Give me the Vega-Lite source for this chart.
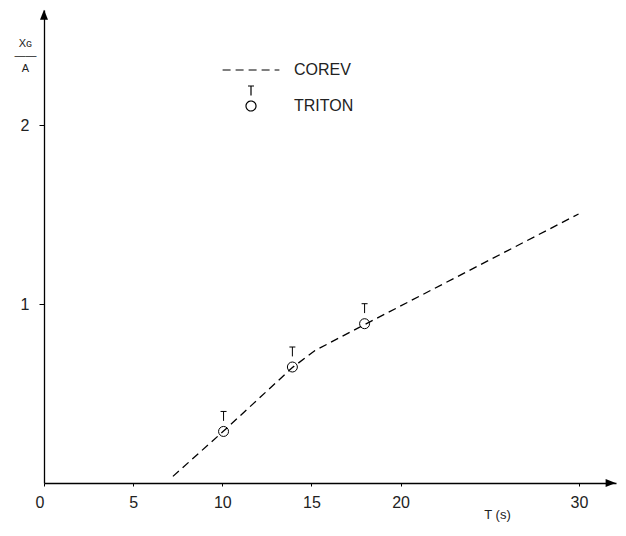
{
  "$schema": "https://vega.github.io/schema/vega-lite/v6.json",
  "width": 572,
  "height": 473,
  "autosize": {"type": "none"},
  "padding": {"left": 44, "top": 10, "right": 10, "bottom": 53},
  "background": "white",
  "config": {
    "view": {"stroke": null},
    "font": "Liberation Sans",
    "axis": {"grid": false, "domainColor": "black", "domainWidth": 1.3, "tickColor": "black", "tickWidth": 1, "labelColor": "#222", "titleColor": "#222", "labelFont": "Liberation Sans", "titleFont": "Liberation Sans", "titleFontWeight": "normal"}
  },
  "datasets": {
    "corev": [
      {"T": 7.23, "XG_A": 0.037, "series": "COREV"},
      {"T": 10.07, "XG_A": 0.29, "series": "COREV"},
      {"T": 13.93, "XG_A": 0.645, "series": "COREV"},
      {"T": 15.2, "XG_A": 0.74, "series": "COREV"},
      {"T": 17.98, "XG_A": 0.885, "series": "COREV"},
      {"T": 29.98, "XG_A": 1.503, "series": "COREV"}
    ],
    "triton": [
      {"T": 10.07, "XG_A": 0.288, "series": "TRITON"},
      {"T": 13.93, "XG_A": 0.648, "series": "TRITON"},
      {"T": 17.98, "XG_A": 0.89, "series": "TRITON"}
    ]
  },
  "layer": [
    {
      "data": {"name": "corev"},
      "mark": {"type": "line", "color": "black", "strokeWidth": 1.3},
      "encoding": {
        "x": {"field": "T", "type": "quantitative", "scale": {"domain": [0, 32.08], "nice": false, "zero": false},
          "axis": {"values": [0, 5, 10, 15, 20, 30], "title": "T (s)", "titleX": 453, "titleY": 31, "titleBaseline": "middle", "titleAlign": "center", "titleFontSize": 13, "labelFontSize": 16, "labelPadding": 8, "labelBaseline": "top", "tickSize": 3, "labelFlush": false, "labelOverlap": false,
            "labelExpr": "datum.value === 0 ? '0  ' : datum.label",
            "labelAlign": {"condition": {"test": "datum.value === 0", "value": "right"}, "value": "center"}}},
        "y": {"field": "XG_A", "type": "quantitative", "scale": {"domain": [0, 2.6425], "nice": false},
          "axis": {"values": [1, 2], "format": "d", "title": ["Xɢ", "——", "A"], "titleAngle": 0, "titleX": -19, "titleY": 36, "titleBaseline": "alphabetic", "titleAlign": "center", "titleFontSize": 11, "titleLineHeight": 12.5, "labelFontSize": 16, "labelPadding": 10, "tickSize": 5, "labelFlush": false, "labelOverlap": false}},
        "strokeDash": {"field": "series", "type": "nominal", "scale": {"domain": ["COREV", "TRITON"], "range": [[8, 5], [1, 0]]},
          "legend": {"title": null, "orient": "none", "legendX": 186, "legendY": 39, "padding": 0, "symbolSize": 1600, "rowPadding": 5, "labelOffset": 22, "labelFontSize": 16, "labelFont": "Liberation Sans", "labelColor": "#222", "symbolStrokeColor": "black", "symbolFillColor": "transparent", "symbolStrokeWidth": 1.2}}
      }
    },
    {
      "data": {"name": "triton"},
      "mark": {"type": "point", "filled": false, "color": "black", "strokeWidth": 1, "size": 1600, "opacity": 1},
      "encoding": {
        "x": {"field": "T", "type": "quantitative"},
        "y": {"field": "XG_A", "type": "quantitative"},
        "shape": {"field": "series", "type": "nominal", "scale": {"domain": ["COREV", "TRITON"], "range": ["M -1.42 0 L 1.42 0", "M 0.25 0 A 0.25 0.25 0 1 1 -0.25 0 A 0.25 0.25 0 1 1 0.25 0 Z M -0.15 -1 L 0.15 -1 M 0 -1 L 0 -0.53"]},
          "legend": {"title": null, "orient": "none", "legendX": 186, "legendY": 39, "padding": 0, "symbolSize": 1600, "rowPadding": 5, "labelOffset": 22, "labelFontSize": 16, "labelFont": "Liberation Sans", "labelColor": "#222", "symbolStrokeColor": "black", "symbolFillColor": "transparent", "symbolStrokeWidth": 1.2}}
      }
    },
    {
      "data": {"values": [{}]},
      "mark": {"type": "point", "shape": "M -1 -0.8 L 1 0 L -1 0.8 Z", "size": 100, "filled": true, "color": "black", "opacity": 1},
      "encoding": {"x": {"datum": 31.78, "type": "quantitative"}, "y": {"datum": 0, "type": "quantitative"}}
    },
    {
      "data": {"values": [{}]},
      "mark": {"type": "point", "shape": "M -0.8 1 L 0 -1 L 0.8 1 Z", "size": 100, "filled": true, "color": "black", "opacity": 1},
      "encoding": {"x": {"datum": 0, "type": "quantitative"}, "y": {"datum": 2.616, "type": "quantitative"}}
    }
  ]
}
